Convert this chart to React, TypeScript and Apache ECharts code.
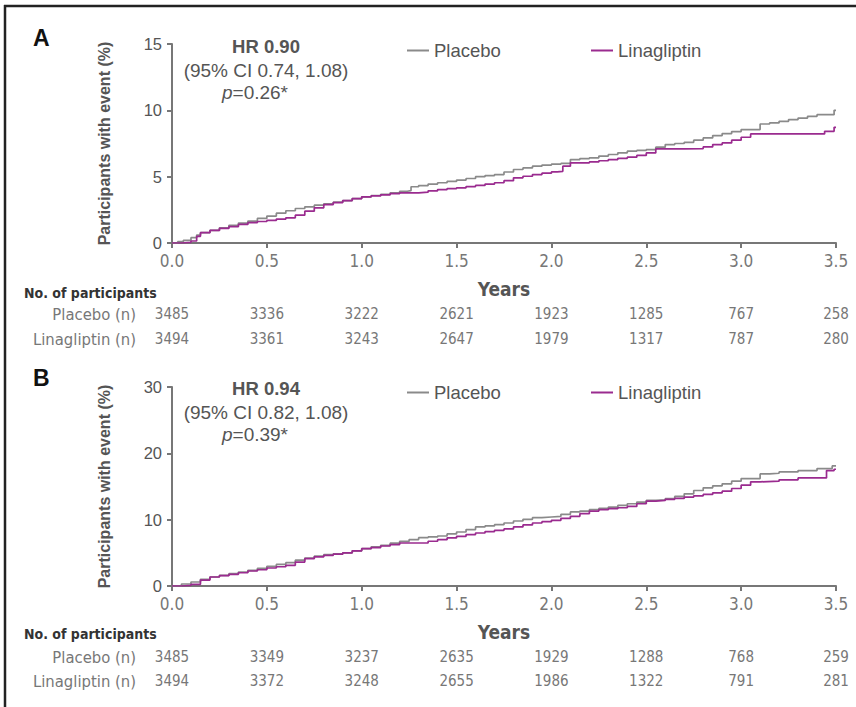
import React, { useEffect, useRef } from "react";
import * as echarts from "echarts";

const yearTicks = [0, 0.5, 1, 1.5, 2, 2.5, 3, 3.5];

const placeboCountA = ["3485", "3336", "3222", "2621", "1923", "1285", "767", "258"];
const linaCountA = ["3494", "3361", "3243", "2647", "1979", "1317", "787", "280"];
const placeboCountB = ["3485", "3349", "3237", "2635", "1929", "1288", "768", "259"];
const linaCountB = ["3494", "3372", "3248", "2655", "1986", "1322", "791", "281"];

const placeboA: number[][] = [[0,0],[0.03,0.1],[0.06,0.2],[0.1,0.4],[0.13,0.6],[0.15,0.78],[0.2,0.95],[0.25,1.15],[0.3,1.33],[0.35,1.5],[0.4,1.65],[0.45,1.85],[0.5,2.03],[0.55,2.25],[0.6,2.43],[0.65,2.6],[0.7,2.73],[0.75,2.85],[0.8,2.96],[0.85,3.08],[0.9,3.2],[0.95,3.35],[1.0,3.48],[1.05,3.58],[1.1,3.66],[1.15,3.78],[1.2,3.9],[1.24,3.95],[1.26,4.24],[1.3,4.33],[1.35,4.44],[1.4,4.54],[1.45,4.64],[1.5,4.74],[1.55,4.86],[1.6,5.0],[1.65,5.08],[1.7,5.16],[1.75,5.35],[1.8,5.54],[1.85,5.66],[1.9,5.79],[1.95,5.87],[2.0,5.94],[2.05,6.0],[2.1,6.29],[2.15,6.36],[2.2,6.42],[2.25,6.55],[2.3,6.67],[2.35,6.8],[2.4,6.92],[2.45,6.98],[2.5,7.04],[2.55,7.22],[2.6,7.42],[2.65,7.5],[2.7,7.59],[2.75,7.75],[2.8,7.92],[2.85,8.1],[2.9,8.25],[2.95,8.4],[3.0,8.55],[3.08,8.55],[3.1,8.97],[3.15,9.05],[3.2,9.17],[3.25,9.3],[3.3,9.42],[3.35,9.55],[3.4,9.67],[3.48,9.67],[3.49,10.0],[3.5,10.0]];
const linaA: number[][] = [[0,0],[0.05,0.05],[0.1,0.15],[0.13,0.5],[0.15,0.78],[0.2,0.95],[0.25,1.1],[0.3,1.23],[0.35,1.4],[0.4,1.53],[0.45,1.62],[0.5,1.7],[0.55,1.8],[0.6,1.9],[0.65,2.1],[0.7,2.4],[0.75,2.65],[0.8,2.9],[0.85,3.05],[0.9,3.2],[0.95,3.35],[1.0,3.48],[1.05,3.55],[1.1,3.63],[1.15,3.72],[1.2,3.78],[1.3,3.83],[1.35,3.93],[1.4,4.03],[1.45,4.1],[1.5,4.16],[1.55,4.25],[1.6,4.34],[1.65,4.44],[1.7,4.54],[1.75,4.7],[1.8,4.91],[1.85,5.03],[1.9,5.16],[1.95,5.26],[2.0,5.36],[2.03,5.4],[2.06,5.79],[2.1,6.04],[2.2,6.11],[2.25,6.2],[2.3,6.29],[2.35,6.38],[2.4,6.47],[2.45,6.6],[2.5,6.79],[2.55,7.09],[2.7,7.12],[2.8,7.24],[2.85,7.42],[2.9,7.54],[2.95,7.75],[3.0,7.97],[3.05,8.22],[3.42,8.22],[3.44,8.42],[3.48,8.42],[3.49,8.72],[3.5,8.72]];
const placeboB: number[][] = [[0,0],[0.05,0.3],[0.1,0.6],[0.15,1.0],[0.2,1.36],[0.25,1.6],[0.3,1.86],[0.35,2.1],[0.4,2.36],[0.45,2.65],[0.5,2.96],[0.55,3.25],[0.6,3.52],[0.65,3.9],[0.7,4.22],[0.75,4.5],[0.8,4.72],[0.85,4.85],[0.9,5.0],[0.95,5.3],[1.0,5.63],[1.05,5.9],[1.1,6.13],[1.15,6.45],[1.2,6.73],[1.25,7.0],[1.3,7.29],[1.35,7.4],[1.4,7.54],[1.45,7.85],[1.5,8.14],[1.55,8.5],[1.6,8.9],[1.65,9.05],[1.7,9.25],[1.75,9.5],[1.8,9.8],[1.85,10.05],[1.9,10.3],[1.95,10.4],[2.0,10.5],[2.05,10.8],[2.1,11.16],[2.15,11.3],[2.2,11.5],[2.25,11.7],[2.3,11.9],[2.35,12.15],[2.4,12.4],[2.45,12.65],[2.5,12.9],[2.55,13.0],[2.6,13.17],[2.65,13.5],[2.7,13.9],[2.75,14.4],[2.8,14.8],[2.85,15.1],[2.9,15.4],[2.95,15.8],[3.0,16.2],[3.08,16.2],[3.1,16.9],[3.15,17.0],[3.2,17.2],[3.3,17.4],[3.4,17.7],[3.47,17.7],[3.48,18.1],[3.5,18.1]];
const linaB: number[][] = [[0,0],[0.05,0.1],[0.1,0.25],[0.15,0.9],[0.2,1.36],[0.25,1.55],[0.3,1.76],[0.35,2.0],[0.4,2.26],[0.45,2.45],[0.5,2.71],[0.55,2.9],[0.6,3.12],[0.65,3.6],[0.7,4.12],[0.75,4.4],[0.8,4.62],[0.85,4.8],[0.9,5.0],[0.95,5.3],[1.0,5.63],[1.05,5.8],[1.1,6.03],[1.15,6.25],[1.2,6.48],[1.3,6.48],[1.35,6.75],[1.4,6.98],[1.45,7.25],[1.5,7.49],[1.55,7.75],[1.6,7.99],[1.65,8.2],[1.7,8.39],[1.75,8.6],[1.8,8.9],[1.85,9.2],[1.9,9.5],[1.95,9.7],[2.0,9.9],[2.05,10.2],[2.1,10.5],[2.15,10.9],[2.2,11.3],[2.25,11.5],[2.3,11.66],[2.35,11.8],[2.4,12.0],[2.45,12.4],[2.5,12.8],[2.55,12.9],[2.6,13.07],[2.65,13.2],[2.7,13.4],[2.75,13.6],[2.8,13.8],[2.85,14.05],[2.9,14.3],[2.95,14.7],[3.0,15.2],[3.05,15.7],[3.1,15.8],[3.2,16.0],[3.3,16.3],[3.43,16.3],[3.45,17.4],[3.48,17.4],[3.49,17.6],[3.5,17.6]];

const PLACEBO_COLOR = "#8a8a8a";
const LINA_COLOR = "#9a2b8f";
const TEXT = "#555555";
const SANS = "'Liberation Sans', Arial, sans-serif";
const NARROW = "'Liberation Sans Narrow', 'DejaVu Sans Condensed', sans-serif";

export default function App() {
  const ref = useRef<HTMLDivElement>(null);
  useEffect(() => {
    if (!ref.current) return;
    const chart = echarts.init(ref.current, undefined, { renderer: "svg" });

    const plotTops = [44, 387];
    const yMax = [15, 30];
    const yInt = [5, 10];
    const rowTops = [[314, 339], [657, 681]];
    const counts = [[placeboCountA, linaCountA], [placeboCountB, linaCountB]];
    const curves = [[placeboA, linaA], [placeboB, linaB]];

    const grid: any[] = [];
    const xAxis: any[] = [];
    const yAxis: any[] = [];
    const series: any[] = [];

    for (let p = 0; p < 2; p++) {
      const gi = grid.length;
      grid.push({ left: 172, right: 20, top: plotTops[p], height: 199 });
      xAxis.push({
        gridIndex: gi, type: "value", min: yearTicks[0], max: yearTicks[yearTicks.length - 1], interval: 0.5,
        name: "Years", nameLocation: "middle", nameGap: 36,
        nameTextStyle: { fontFamily: NARROW, fontWeight: "bold", fontSize: 19, color: TEXT },
        axisLine: { show: true, lineStyle: { color: "#777", width: 2 } },
        axisTick: { show: true, length: 5, lineStyle: { color: "#777", width: 2 } },
        splitLine: { show: false },
        axisLabel: { formatter: (v: number) => v.toFixed(1), fontFamily: NARROW, fontSize: 17, color: "#777", margin: 9 },
      });
      yAxis.push({
        gridIndex: gi, type: "value", min: 0, max: yMax[p], interval: yInt[p],
        name: "Participants with event (%)", nameLocation: "middle", nameGap: 60,
        nameTextStyle: { fontFamily: SANS, fontWeight: "bold", fontSize: 16, color: TEXT },
        axisLine: { show: true, lineStyle: { color: "#777", width: 2 } },
        axisTick: { show: true, length: 5, lineStyle: { color: "#777", width: 2 } },
        splitLine: { show: false },
        axisLabel: { fontFamily: SANS, fontSize: 16.5, color: TEXT, margin: 10 },
      });
      const names = ["Placebo", "Linagliptin"];
      const colors = [PLACEBO_COLOR, LINA_COLOR];
      for (let s = 0; s < 2; s++) {
        series.push({
          type: "line", name: names[s], xAxisIndex: gi, yAxisIndex: gi,
          data: curves[p][s], step: "end", showSymbol: false, symbol: "none",
          lineStyle: { color: colors[s], width: 1.7 }, itemStyle: { color: colors[s] },
          z: s === 1 ? 3 : 2,
        });
      }
      for (let r = 0; r < 2; r++) {
        const ri = grid.length;
        grid.push({ left: 172, right: 20, top: rowTops[p][r] - 1, height: 1 });
        xAxis.push({
          gridIndex: ri, type: "category", data: counts[p][r], boundaryGap: false,
          axisLine: { show: false }, axisTick: { show: false }, splitLine: { show: false },
          axisLabel: { interval: 0, margin: 0, verticalAlign: "middle", fontFamily: NARROW, fontSize: 15, color: "#777" },
        });
        yAxis.push({ gridIndex: ri, type: "value", show: false });
      }
    }

    const statText = (cx: number, y: number, hr: string, ci: string, pv: string) => [
      { type: "text", x: cx, y, style: { text: hr, fontFamily: SANS, fontWeight: "bold", fontSize: 18.5, fill: TEXT, textAlign: "center", textVerticalAlign: "middle" } },
      { type: "text", x: cx, y: y + 24, style: { text: ci, fontFamily: SANS, fontSize: 19, fill: TEXT, textAlign: "center", textVerticalAlign: "middle" } },
      { type: "text", x: cx - 11, y: y + 46, style: { text: "{i|p}=" + pv, fontFamily: SANS, fontSize: 19, fill: TEXT, textAlign: "center", textVerticalAlign: "middle", rich: { i: { fontStyle: "italic", fontFamily: SANS, fontSize: 19, fill: TEXT } } } },
    ];

    const tableText = (yHead: number, y1: number, y2: number) => [
      { type: "text", x: 24, y: yHead, style: { text: "No. of participants", fontFamily: NARROW, fontWeight: "bold", fontSize: 14, fill: "#333", textVerticalAlign: "middle" } },
      { type: "text", x: 136, y: y1, style: { text: "Placebo (n)", fontFamily: NARROW, fontSize: 16.5, fill: "#777", textAlign: "right", textVerticalAlign: "middle" } },
      { type: "text", x: 136, y: y2, style: { text: "Linagliptin (n)", fontFamily: NARROW, fontSize: 16.5, fill: "#777", textAlign: "right", textVerticalAlign: "middle" } },
    ];

    const legendBase = { icon: "rect", itemWidth: 22, itemHeight: 2, itemGap: 8, textStyle: { fontFamily: SANS, fontSize: 18.5, color: TEXT } };

    chart.setOption({
      animation: false,
      backgroundColor: "#ffffff",
      grid, xAxis, yAxis, series,
      legend: [
        { ...legendBase, data: ["Placebo"], left: 402, top: 36 },
        { ...legendBase, data: ["Linagliptin"], left: 586, top: 36 },
        { ...legendBase, data: ["Placebo"], left: 402, top: 378 },
        { ...legendBase, data: ["Linagliptin"], left: 586, top: 378 },
      ],
      graphic: [
        { type: "line", shape: { x1: 4, y1: 6, x2: 856, y2: 6 }, style: { stroke: "#222", lineWidth: 2.5 } },
        { type: "line", shape: { x1: 5, y1: 5, x2: 5, y2: 707 }, style: { stroke: "#222", lineWidth: 2.5 } },
        { type: "text", x: 33, y: 38, style: { text: "A", fontFamily: SANS, fontWeight: "bold", fontSize: 23, fill: "#111", textVerticalAlign: "middle" } },
        { type: "text", x: 33, y: 378, style: { text: "B", fontFamily: SANS, fontWeight: "bold", fontSize: 23, fill: "#111", textVerticalAlign: "middle" } },
        ...statText(266, 46, "HR 0.90", "(95% CI 0.74, 1.08)", "0.26*"),
        ...statText(266, 388, "HR 0.94", "(95% CI 0.82, 1.08)", "0.39*"),
        ...tableText(293, 314, 339),
        ...tableText(634, 657, 681),
      ],
    });
    return () => chart.dispose();
  }, []);
  return <div ref={ref} style={{ position: "absolute", left: 0, top: 0, width: 856, height: 707 }} />;
}
